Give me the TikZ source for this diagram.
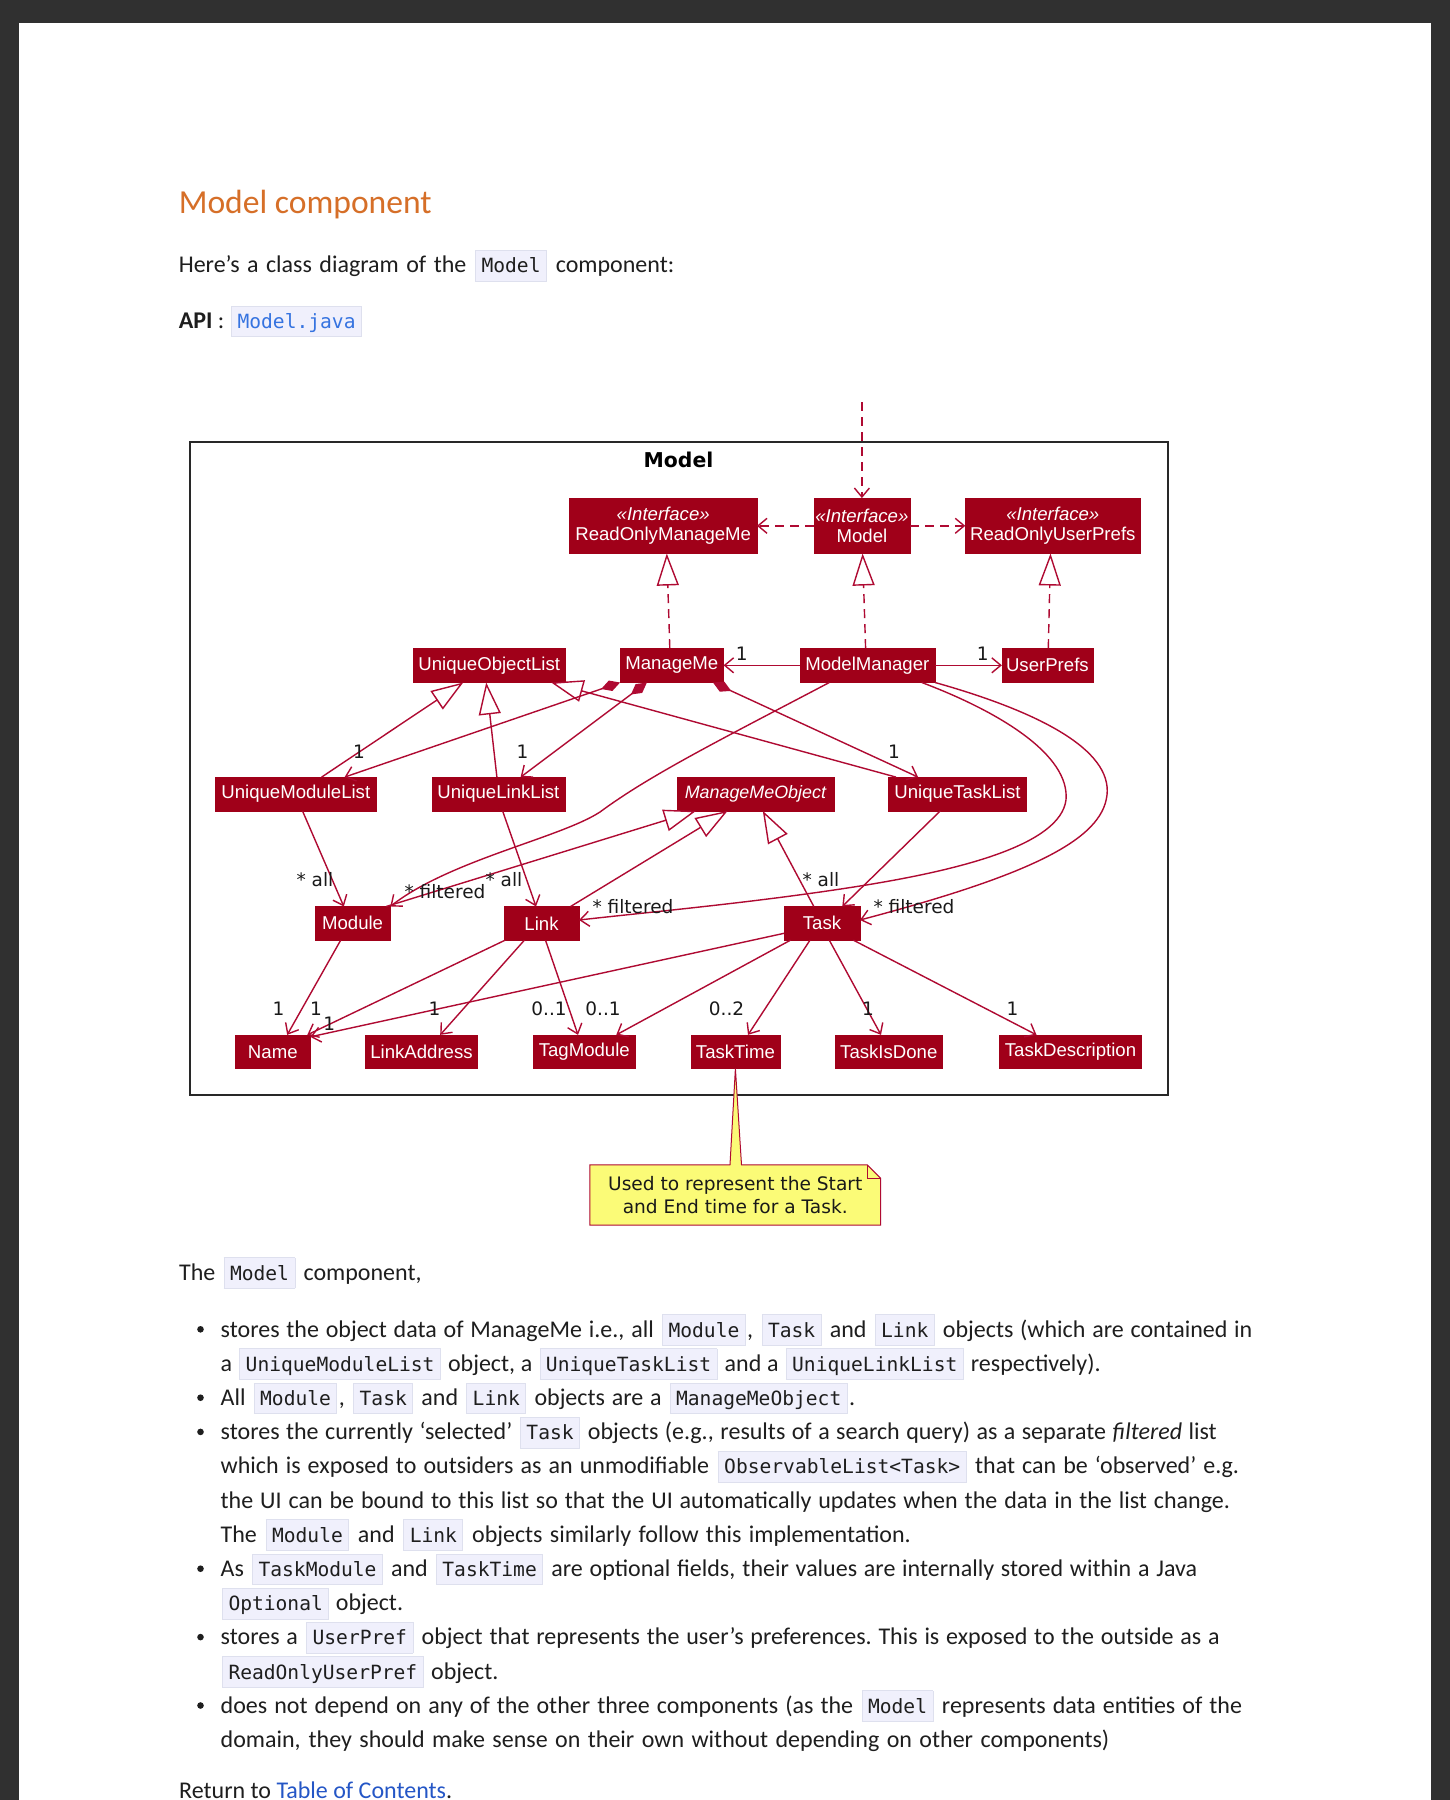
\documentclass[tikz,border=0pt]{standalone}
\usepackage{fontspec}
\setmainfont{Carlito}
\newfontfamily\codefont{DejaVu Sans Mono}
\newfontfamily\umlfont{Liberation Sans}
\newfontfamily\lblfont{DejaVu Sans}
\usetikzlibrary{arrows.meta,calc}
\definecolor{pagedark}{RGB}{48,48,48}
\definecolor{titleor}{RGB}{214,111,40}
\definecolor{bodytxt}{RGB}{30,30,30}
\definecolor{cdfill}{RGB}{240,240,252}
\definecolor{cdline}{RGB}{222,224,238}
\definecolor{apiblue}{RGB}{53,115,224}
\definecolor{linkblue}{RGB}{36,86,198}
\definecolor{umlbox}{RGB}{160,0,25}
\definecolor{umlline}{RGB}{175,10,50}
\definecolor{notefill}{RGB}{251,251,119}
\definecolor{framecol}{RGB}{40,40,40}
\newcommand\cd[1]{{\setlength\fboxsep{0pt}\setlength\fboxrule{0.8pt}\kern1.5pt\fcolorbox{cdline}{cdfill}{\rule[-8pt]{0pt}{30pt}\kern5.5pt{\codefont\fontsize{19.6}{22}\selectfont #1}\kern5.5pt}\kern1.5pt}}
\newcommand\jline[2]{\hbox to #1pt{\spaceskip=5.4pt plus 8pt minus 3pt\relax\xspaceskip=\spaceskip #2}}
\tikzset{
  bodytext/.style={anchor=base west, inner sep=0, text=bodytxt, font=\fontsize{24}{28}\selectfont},
  bul/.style={circle, fill=bodytxt, minimum size=6.6pt, inner sep=0},
  cls/.style={fill=umlbox, draw=umlbox, text=white, inner sep=0, align=center, font=\umlfont\fontsize{18.6}{20}\selectfont},
  conn/.style={draw=umlline, line width=1.4pt},
  nav/.style={conn, -{Straight Barb[length=9pt,width=15pt]}},
  gen/.style={conn, -{Triangle[length=32pt,width=22pt,fill=white]}},
  comp/.style={conn, {Diamond[length=20pt,width=11pt]}-{Straight Barb[length=9pt,width=15pt]}},
  dep/.style={nav, dash pattern=on 9pt off 6pt},
  real/.style={gen, dash pattern=on 9pt off 6pt},
  lbl/.style={inner sep=0, text=black!90, font=\lblfont\fontsize{18.5}{20}\selectfont},
}
\begin{document}
\begin{tikzpicture}[x=1pt,y=-1pt]
\useasboundingbox (0,0) rectangle (1450,1800);
\fill[pagedark] (0,0) rectangle (1450,1800);
\fill[white] (18.7,23.3) rectangle (1431,1800);

% ---------- header text ----------
\node[anchor=base west, inner sep=0, text=titleor, font=\fontsize{33.6}{38}\selectfont] (title) at (178.6,213.3) {Model component};
\node[bodytext] (here) at (178.6,272.7) {\jline{495.5}{Here’s a class diagram of the \cd{Model} component:}};
\node[bodytext] (api) at (178.6,328.3) {\textbf{API} : \cd{\color{apiblue}Model.java}};

% ---------- diagram ----------
\node[draw=framecol, line width=2pt, minimum width=978.2pt, minimum height=652.2pt, inner sep=0] (pkg) at (678.7,768.4) {};
\node[font=\lblfont\bfseries\fontsize{20.4}{22}\selectfont] (pkgtitle) at (678.5,460) {Model};

\node[cls, minimum width=187.1pt, minimum height=55pt] (ROMM) at (663.2,525.8) {\itshape «Interface»\\ReadOnlyManageMe};
\node[cls, minimum width=96.2pt, minimum height=55pt] (IModel) at (861.9,525.8) {\itshape «Interface»\\Model};
\node[cls, minimum width=174.6pt, minimum height=55pt] (ROUP) at (1052.8,525.8) {\itshape «Interface»\\ReadOnlyUserPrefs};

\node[cls, minimum width=151.6pt, minimum height=34pt] (UOL) at (489.2,665.3) {UniqueObjectList};
\node[cls, minimum width=103.1pt, minimum height=34pt] (MM) at (671.8,665.3) {ManageMe};
\node[cls, minimum width=135.1pt, minimum height=34pt] (MMgr) at (867.3,665.3) {ModelManager};
\node[cls, minimum width=90.6pt, minimum height=34pt] (UP) at (1047.4,665.3) {UserPrefs};

\node[cls, minimum width=161.1pt, minimum height=33.4pt] (UML) at (295.8,794) {UniqueModuleList};
\node[cls, minimum width=133.2pt, minimum height=33.4pt] (ULL) at (498.4,794) {UniqueLinkList};
\node[cls, minimum width=156.8pt, minimum height=33.4pt, font=\umlfont\itshape\fontsize{17.9}{20}\selectfont] (MMO) at (755.4,794) {ManageMeObject};
\node[cls, minimum width=138pt, minimum height=33.4pt] (UTL) at (957.5,794) {UniqueTaskList};

\node[cls, minimum width=75pt, minimum height=33.3pt] (Module) at (352.6,923.3) {Module};
\node[cls, minimum width=74.7pt, minimum height=33.3pt] (Link) at (541.5,923.3) {Link};
\node[cls, minimum width=75.5pt, minimum height=33.3pt] (Task) at (822,923.3) {Task};

\node[cls, minimum width=74.6pt, minimum height=33.3pt] (Name) at (272.8,1051.7) {Name};
\node[cls, minimum width=111.8pt, minimum height=33.3pt] (LinkAddress) at (421.5,1051.7) {LinkAddress};
\node[cls, minimum width=102.2pt, minimum height=33.3pt] (TagModule) at (584.3,1051.7) {TagModule};
\node[cls, minimum width=88.8pt, minimum height=33.3pt] (TaskTime) at (735.4,1051.7) {TaskTime};
\node[cls, minimum width=106.9pt, minimum height=33.3pt] (TaskIsDone) at (888.8,1051.7) {TaskIsDone};
\node[cls, minimum width=142pt, minimum height=33.3pt] (TaskDescription) at (1070.5,1051.7) {TaskDescription};

\coordinate (ext) at (861.9,402);

% connectors
\draw[dep] (ext) -- (IModel.north);
\draw[dep] (IModel.west) -- (ROMM.east);
\draw[dep] (IModel.east) -- (ROUP.west);
\draw[real] ([xshift=-2pt]MM.north) -- ([xshift=3.6pt]ROMM.south);
\draw[real] ([xshift=-1.7pt]MMgr.north) -- ([xshift=0.7pt]IModel.south);
\draw[real] ([xshift=0.9pt]UP.north) -- ([xshift=-2.3pt]ROUP.south);
\draw[nav] (MMgr.west) -- (MM.east);
\draw[nav] (MMgr.east) -- (UP.west);

\draw[gen] ([xshift=-61.5pt]UTL.north) -- ([xshift=62pt]UOL.south);
\draw[comp] (MM.south west) -- ([xshift=48.8pt]UML.north);
\draw[comp] ([xshift=-24.9pt]MM.south) -- ([xshift=22.2pt]ULL.north);
\draw[comp] ([xshift=41.2pt]MM.south) -- ([xshift=-39.4pt]UTL.north);
\draw[gen] ([xshift=25.8pt]UML.north) -- ([xshift=-26pt]UOL.south);
\draw[gen] ([xshift=-1.5pt]ULL.north) -- ([xshift=-3pt]UOL.south);

\draw[nav] ([xshift=-38pt]MMgr.south) .. controls (720,740) and (650,775) .. (600,812) .. controls (560,838) and (450,860) .. (Module.north east);
\draw[nav] ([xshift=54.5pt]MMgr.south) .. controls (1000,712) and (1070,755) .. (1066,800) .. controls (1060,845) and (960,870) .. (860,886) .. controls (760,902) and (650,912) .. ([yshift=3.3pt]Link.east);
\draw[nav] (MMgr.south east) .. controls (1040,712) and (1112,750) .. (1107,795) .. controls (1102,840) and (1030,875) .. ([yshift=3.3pt]Task.east);

\draw[nav] ([xshift=6.7pt]UML.south) -- ([xshift=-8.8pt]Module.north);
\draw[nav] ([xshift=4.2pt]ULL.south) -- ([xshift=-5.5pt]Link.north);
\draw[nav] ([xshift=-17.2pt]UTL.south) -- ([xshift=20.3pt]Task.north);

\draw[gen] ([xshift=-4pt]Module.north east) -- ([xshift=-59.4pt]MMO.south);
\draw[gen] ([xshift=-8.4pt]Link.north east) -- ([xshift=-27.8pt]MMO.south);
\draw[gen] ([xshift=-8.2pt]Task.north) -- ([xshift=7.4pt]MMO.south);

\draw[nav] ([xshift=-11.9pt]Module.south) -- ([xshift=14.4pt]Name.north);
\draw[nav] ([xshift=1.2pt]Link.south west) -- ([xshift=-3pt]Name.north east);
\draw[nav] ([yshift=-10pt]Task.west) -- ([yshift=-2pt]Name.north east);
\draw[nav] ([xshift=-17.1pt]Link.south) -- ([xshift=18.7pt]LinkAddress.north);
\draw[nav] ([xshift=4pt]Link.south) -- ([xshift=-6.3pt]TagModule.north);
\draw[nav] ([xshift=-31.5pt]Task.south) -- ([xshift=32pt]TagModule.north);
\draw[nav] ([xshift=-12pt]Task.south) -- ([xshift=12.6pt]TaskTime.north);
\draw[nav] ([xshift=7.3pt]Task.south) -- ([xshift=-7.8pt]TaskIsDone.north);
\draw[nav] ([xshift=31.4pt]Task.south) -- ([xshift=-34pt]TaskDescription.north);

% labels
\node[lbl] (l1) at (741.7,653.3) {1};
\node[lbl] (l2) at (982.8,653.3) {1};
\node[lbl] (l3) at (359,751.7) {1};
\node[lbl] (l4) at (522.5,751.7) {1};
\node[lbl] (l5) at (894,751.7) {1};
\node[lbl] (l6) at (315,880) {* all};
\node[lbl] (l7) at (445,891.7) {* filtered};
\node[lbl] (l8) at (504,880) {* all};
\node[lbl] (l9) at (633,906.7) {* filtered};
\node[lbl] (l10) at (821,880) {* all};
\node[lbl] (l11) at (914,906.7) {* filtered};
\node[lbl] (l12) at (278.4,1008.3) {1};
\node[lbl] (l13) at (315.9,1008.3) {1};
\node[lbl] (l14) at (329.3,1023.3) {1};
\node[lbl] (l15) at (434.5,1008.3) {1};
\node[lbl] (l16) at (549,1008.3) {0..1};
\node[lbl] (l17) at (603,1008.3) {0..1};
\node[lbl] (l18) at (726.5,1008.3) {0..2};
\node[lbl] (l19) at (868,1008.3) {1};
\node[lbl] (l20) at (1012.4,1008.3) {1};

% note
\node[minimum width=290.5pt, minimum height=60pt, inner sep=0] (note) at (735.25,1195) {};
\path[fill=notefill, draw=umlline, line width=1pt] (note.north west) -- ($(note.north west)+(140.2,0)$) -- (TaskTime.south) -- ($(note.north west)+(151.7,0)$) -- ($(note.north east)+(-13.5,0)$) -- ($(note.north east)+(0,13.5)$) -- (note.south east) -- (note.south west) -- cycle;
\draw[umlline, line width=1pt] ($(note.north east)+(-13.5,0)$) -- ($(note.north east)+(-13.5,13.5)$) -- ($(note.north east)+(0,13.5)$);
\node[align=center, inner sep=0, text=black!90, font=\lblfont\fontsize{18.6}{23.3}\selectfont] (notetxt) at (note.center) {Used to represent the Start\\and End time for a Task.};

% ---------- body text ----------
\node[bodytext] (the) at (179,1280) {\jline{242.4}{The \cd{Model} component,}};

\node[bul] (b1) at (200.5,1329.3) {};
\node[bul] (b2) at (200.5,1397.7) {};
\node[bul] (b3) at (200.5,1431.9) {};
\node[bul] (b4) at (200.5,1568.7) {};
\node[bul] (b5) at (200.5,1637.1) {};
\node[bul] (b6) at (200.5,1705.5) {};

\node[bodytext] (t1) at (220.5,1337) {\jline{1031.7}{stores the object data of ManageMe i.e., all \cd{Module}, \cd{Task} and \cd{Link} objects (which are contained in}};
\node[bodytext] (t2) at (220.5,1371.2) {\jline{879.9}{a \cd{UniqueModuleList} object, a \cd{UniqueTaskList} and a \cd{UniqueLinkList} respectively).}};
\node[bodytext] (t3) at (220.5,1405.4) {\jline{634.5}{All \cd{Module}, \cd{Task} and \cd{Link} objects are a \cd{ManageMeObject}.}};
\node[bodytext] (t4) at (220.5,1439.6) {\jline{996}{stores the currently ‘selected’ \cd{Task} objects (e.g., results of a search query) as a separate \textit{filtered} list}};
\node[bodytext] (t5) at (220.5,1473.8) {\jline{1018.3}{which is exposed to outsiders as an unmodifiable \cd{ObservableList<Task>} that can be ‘observed’ e.g.}};
\node[bodytext] (t6) at (220.5,1508) {\jline{1009.4}{the UI can be bound to this list so that the UI automatically updates when the data in the list change.}};
\node[bodytext] (t7) at (220.5,1542.2) {\jline{690.2}{The \cd{Module} and \cd{Link} objects similarly follow this implementation.}};
\node[bodytext] (t8) at (220.5,1576.4) {\jline{976.5}{As \cd{TaskModule} and \cd{TaskTime} are optional fields, their values are internally stored within a Java}};
\node[bodytext] (t9) at (220.5,1610.6) {\jline{182.4}{\cd{Optional} object.}};
\node[bodytext] (t10) at (220.5,1644.8) {\jline{999}{stores a \cd{UserPref} object that represents the user’s preferences. This is exposed to the outside as a}};
\node[bodytext] (t11) at (220.5,1679) {\jline{277.7}{\cd{ReadOnlyUserPref} object.}};
\node[bodytext] (t12) at (220.5,1713.2) {\jline{1021.3}{does not depend on any of the other three components (as the \cd{Model} represents data entities of the}};
\node[bodytext] (t13) at (220.5,1747.4) {\jline{888.7}{domain, they should make sense on their own without depending on other components)}};

\node[bodytext] (ret) at (179,1798) {Return to \textcolor{linkblue}{Table of Contents}.};
\end{tikzpicture}
\end{document}
